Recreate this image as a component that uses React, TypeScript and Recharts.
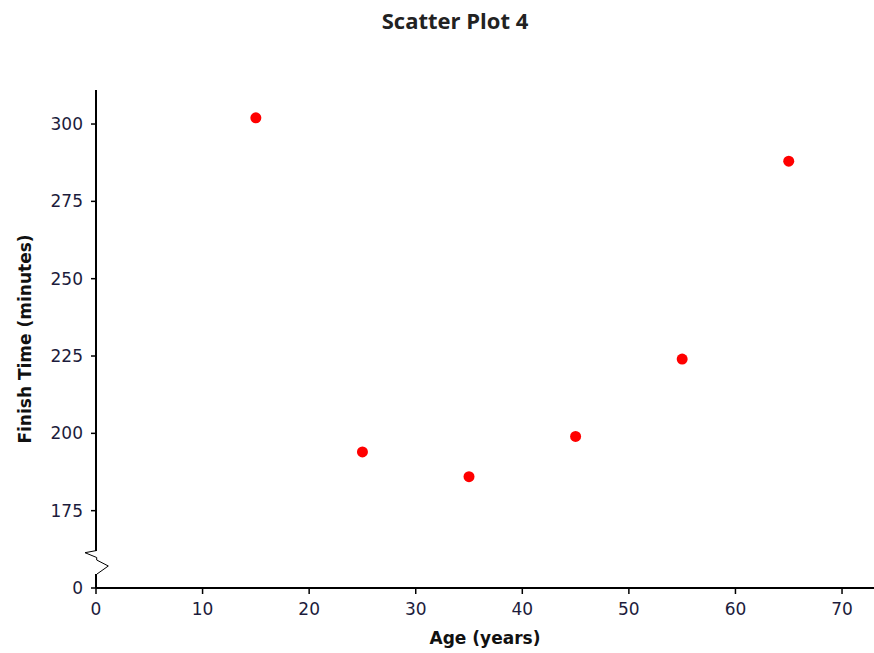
import { ScatterChart, Scatter, XAxis, YAxis } from "recharts"

// ages (years) and finish times (minutes)
const ages = [15, 25, 35, 45, 55, 65]
const finishTimes = [302, 194, 186, 199, 224, 288]

const xTicks = [0, 10, 20, 30, 40, 50, 60, 70]
// the lowest tick sits at the axis break and is labelled 0
const yTicks = [150, 175, 200, 225, 250, 275, 300]
const yBreakValue = 150

const points = ages.map((age, i) => ({ age, time: finishTimes[i] }))

const tickStyle = { fontFamily: "DejaVu Sans", fontSize: 17, fill: "#1c1c3c" }
const labelStyle = { fontFamily: "DejaVu Sans", fontSize: 17, fontWeight: "bold", fill: "#111" }

function AxisBreak() {
  return (
    <svg
      width={874}
      height={653}
      style={{ position: "absolute", left: 0, top: 0, pointerEvents: "none" }}
    >
      <rect x={94} y={551} width={6} height={23} fill="#fff" />
      <polyline
        points="96.7,550.5 85,552.7 96.7,557.5 96.7,560 108.3,566 97,574"
        fill="none"
        stroke="#000"
        strokeWidth={1}
      />
    </svg>
  )
}

export default function App() {
  return (
    <div style={{ position: "absolute", left: 0, top: 0, width: 874, height: 653, background: "#fff" }}>
      <div
        style={{
          position: "absolute",
          left: 0,
          width: 910,
          top: 5,
          textAlign: "center",
          fontFamily: "Open Sans",
          fontWeight: 700,
          fontSize: 22,
          color: "#222",
        }}
      >
        Scatter Plot 4
      </div>
      <ScatterChart width={874} height={653} margin={{ top: 90, right: 0, bottom: 0, left: 0 }}>
        <XAxis
          type="number"
          dataKey="age"
          domain={[0, 73]}
          ticks={xTicks}
          height={65}
          tickSize={6}
          tickMargin={9}
          tick={tickStyle}
          axisLine={{ stroke: "#000", strokeWidth: 2 }}
          tickLine={{ stroke: "#000", strokeWidth: 1.5 }}
          label={{ value: "Age (years)", position: "insideBottom", offset: 9, style: labelStyle }}
        />
        <YAxis
          type="number"
          dataKey="time"
          domain={[yBreakValue, 311]}
          ticks={yTicks}
          width={96}
          tickSize={5}
          tickMargin={8}
          tick={tickStyle}
          tickFormatter={(v: number) => (v === yBreakValue ? "0" : String(v))}
          axisLine={{ stroke: "#000", strokeWidth: 2 }}
          tickLine={{ stroke: "#000", strokeWidth: 1.5 }}
          label={{
            value: "Finish Time (minutes)",
            angle: -90,
            position: "insideLeft",
            offset: 25,
            style: { ...labelStyle, textAnchor: "middle" },
          }}
        />
        <Scatter
          data={points}
          fill="#ff0000"
          isAnimationActive={false}
          shape={(p: any) => <circle cx={p.cx} cy={p.cy} r={5.5} fill="#ff0000" />}
        />
      </ScatterChart>
      <AxisBreak />
    </div>
  )
}
